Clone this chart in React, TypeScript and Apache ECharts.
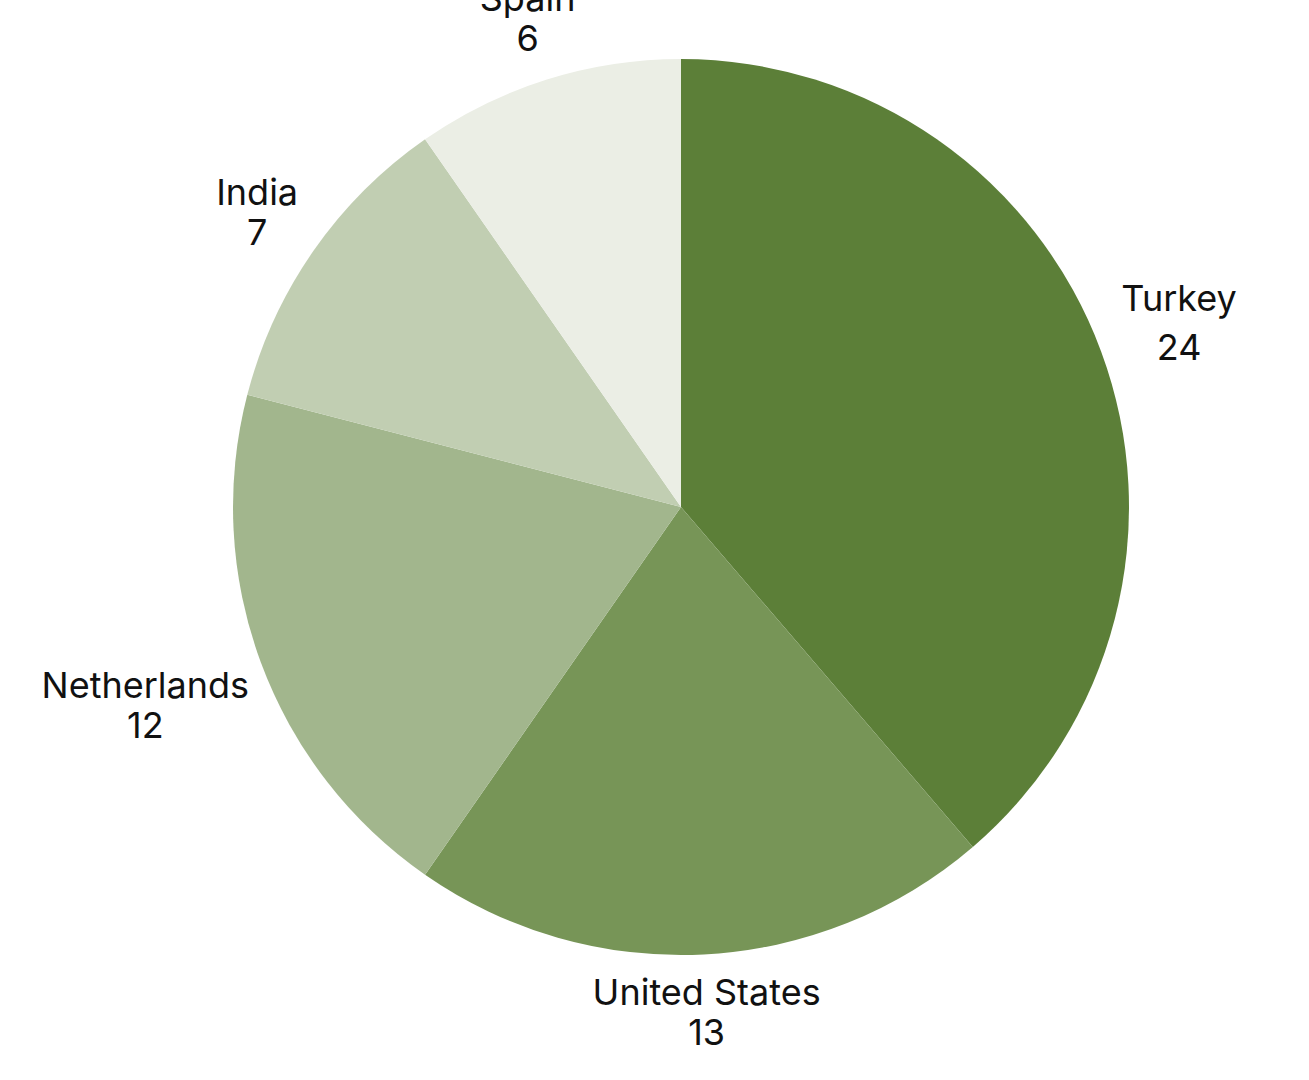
import React, { useEffect, useRef } from 'react';
import * as echarts from 'echarts';

const countries = ['Turkey', 'United States', 'Netherlands', 'India', 'Spain'];
const values = [24, 13, 12, 7, 6];
const colors = ['#5c7f38', '#779557', '#a2b68d', '#c1ceb2', '#ebeee5'];

// pie geometry (page pixels)
const CX = 681;
const CY = 507;
const R = 448;
const LABEL_GAP = 12;

const total = values.reduce((a, b) => a + b, 0);

const midAngle = (i: number) => {
  const before = values.slice(0, i).reduce((a, b) => a + b, 0);
  return ((before + values[i] / 2) / total) * Math.PI * 2;
};

const App: React.FC = () => {
  const chartRef = useRef<HTMLDivElement>(null);

  useEffect(() => {
    if (!chartRef.current) return;
    const chart = echarts.init(chartRef.current, null, { renderer: 'svg' });

    const option: echarts.EChartsOption = {
      animation: false,
      series: [
        {
          type: 'pie',
          center: [CX, CY],
          radius: R,
          startAngle: 90,
          clockwise: true,
          avoidLabelOverlap: false,
          data: countries.map((name, i) => ({
            name,
            value: values[i],
            itemStyle: { color: colors[i] },
            label: i === 0 ? { lineHeight: 49 } : undefined
          })),
          itemStyle: { borderWidth: 0 },
          label: {
            show: true,
            position: 'outside',
            formatter: '{b}\n{c}',
            fontFamily: 'Inter',
            fontSize: 36,
            lineHeight: 40,
            color: '#111',
            align: 'center'
          },
          labelLine: { show: false },
          emphasis: { disabled: true },
          labelLayout: (params: any) => {
            const a = midAngle(params.dataIndex);
            const sx = Math.sin(a);
            const sy = -Math.cos(a);
            const w = params.labelRect.width;
            const h = params.labelRect.height;
            const d = R + LABEL_GAP + (w / 2) * Math.abs(sx) + (h / 2) * Math.abs(sy);
            return {
              x: CX + d * sx,
              y: CY + d * sy,
              align: 'center',
              verticalAlign: 'middle'
            };
          }
        }
      ]
    };

    chart.setOption(option);
    return () => chart.dispose();
  }, []);

  return (
    <div
      ref={chartRef}
      style={{ position: 'absolute', left: 0, top: 0, width: '1309px', height: '1080px' }}
    />
  );
};

export default App;
